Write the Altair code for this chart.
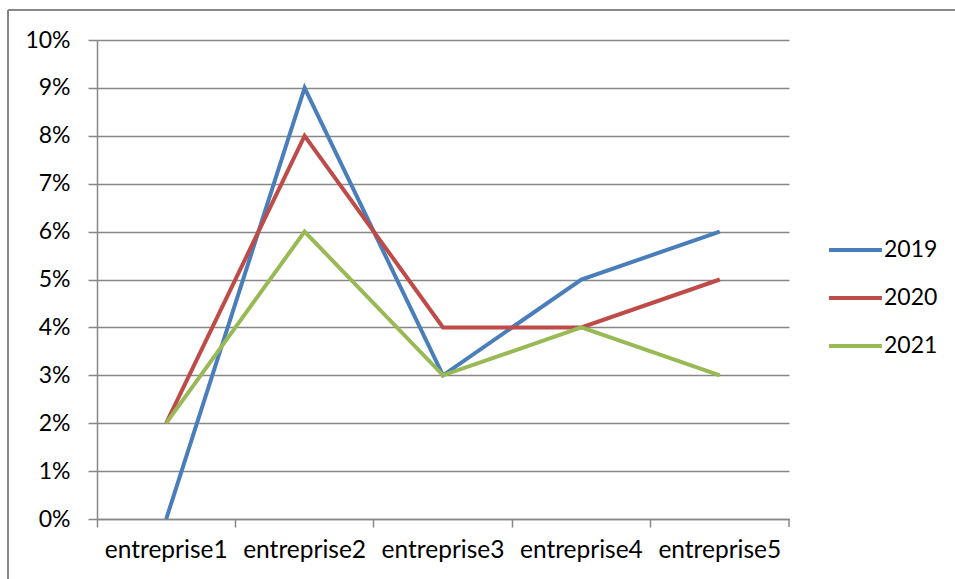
import altair as alt
import pandas as pd

companies = ["entreprise1", "entreprise2", "entreprise3", "entreprise4", "entreprise5"]
years = ["2019", "2020", "2021"]
rates_2019 = [0.00, 0.09, 0.03, 0.05, 0.06]
rates_2020 = [0.02, 0.08, 0.04, 0.04, 0.05]
rates_2021 = [0.02, 0.06, 0.03, 0.04, 0.03]
y_ticks = [i / 100 for i in range(0, 11)]
colors = ["#4A7EBB", "#BE4B48", "#98B954"]

rows = []
for year, series in zip(years, [rates_2019, rates_2020, rates_2021]):
    for company, v in zip(companies, series):
        rows.append({"entreprise": company, "annee": year, "taux": v})
df = pd.DataFrame(rows)

FONT = "Lato"
FS = 23
GRID = "#878787"

x_enc = alt.X(
    "entreprise:N",
    sort=companies,
    scale=alt.Scale(paddingInner=0, paddingOuter=0),
    axis=alt.Axis(
        title=None,
        bandPosition=0,
        labelAngle=0,
        labelFontSize=24.5,
        labelFont=FONT,
        labelColor="#000000",
        labelPadding=11,
        tickSize=8,
        tickWidth=1.5,
        tickColor=GRID,
        domainColor=GRID,
        domainWidth=1.5,
        grid=False,
    ),
)

lines = alt.Chart(df).mark_line(strokeWidth=4).encode(
    x=x_enc,
    y=alt.Y(
        "taux:Q",
        scale=alt.Scale(domain=[0, 0.10], nice=False),
        axis=alt.Axis(
            title=None,
            values=y_ticks,
            format=".0%",
            labelFontSize=FS,
            labelFont=FONT,
            labelColor="#000000",
            labelPadding=18,
            tickSize=9,
            tickWidth=1.5,
            tickColor=GRID,
            domainColor=GRID,
            domainWidth=1.5,
            grid=True,
            gridColor=GRID,
            gridWidth=1.5,
        ),
    ),
    color=alt.Color(
        "annee:N",
        scale=alt.Scale(domain=years, range=colors),
        legend=alt.Legend(
            title=None,
            orient="none",
            legendX=730,
            legendY=186,
            symbolType="stroke",
            symbolStrokeWidth=4,
            symbolSize=2800,
            clipHeight=48,
            labelFontSize=FS,
            labelFont=FONT,
            labelColor="#000000",
            labelOffset=0,
            rowPadding=0,
        ),
    ),
)

# closing tick at the right end of the category axis
end_tick = alt.Chart(pd.DataFrame({"entreprise": [companies[-1]]})).mark_rule(
    color=GRID, strokeWidth=1.5
).encode(
    x=alt.X("entreprise:N", sort=companies, bandPosition=1),
    y=alt.value(479),
    y2=alt.value(487),
)

# outer chart frame (left and top edges)
frame_left = alt.Chart(pd.DataFrame({"k": [0]})).mark_rule(color=GRID, strokeWidth=2).encode(
    x=alt.value(-89), y=alt.value(-30), y2=alt.value(560)
)
frame_top = alt.Chart(pd.DataFrame({"k": [0]})).mark_rule(color=GRID, strokeWidth=2).encode(
    x=alt.value(-89), x2=alt.value(880), y=alt.value(-30)
)

chart = (
    alt.layer(frame_left, frame_top, lines, end_tick)
    .properties(
        width=692,
        height=479,
        autosize=alt.AutoSizeParams(type="none"),
        padding={"left": 97, "top": 40, "right": 166, "bottom": 60},
        background="#ffffff",
    )
    .configure_view(stroke=None)
)

chart.save("out.html", embed_options={"renderer": "svg", "actions": False})
